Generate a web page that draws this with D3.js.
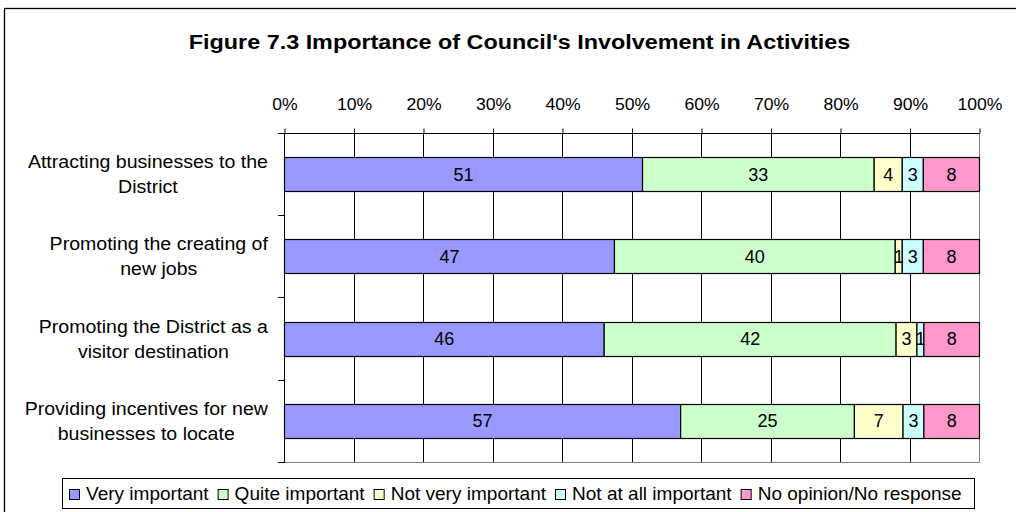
<!DOCTYPE html>
<html>
<head>
<meta charset="utf-8">
<script src="https://cdn.jsdelivr.net/npm/d3@7"></script>
<style>
  html, body { margin: 0; padding: 0; background: #fff; }
  svg { display: block; font-family: "Liberation Sans", Arial, sans-serif; }
</style>
</head>
<body>
<svg id="chart" width="1016" height="512"></svg>
<script>
// Survey responses (counts shown on the bars; widths are shares of each row's total)
const categories = [
  ["Attracting businesses to the", "District"],
  ["Promoting the creating of", "new jobs"],
  ["Promoting the District as a", "visitor destination"],
  ["Providing incentives for new", "businesses to locate"]
];
const seriesNames = ["Very important", "Quite important", "Not very important", "Not at all important", "No opinion/No response"];
const veryImportant     = [51, 47, 46, 57];
const quiteImportant    = [33, 40, 42, 25];
const notVeryImportant  = [4, 1, 3, 7];
const notAtAllImportant = [3, 3, 1, 3];
const noOpinion         = [8, 8, 8, 8];
const tickValues = [0, 10, 20, 30, 40, 50, 60, 70, 80, 90, 100];
const titleText = "Figure 7.3 Importance of Council's Involvement in Activities";

const colors = ["#9999FF", "#CCFFCC", "#FFFFCC", "#CCFFFF", "#FF99CC"];
const series = [veryImportant, quiteImportant, notVeryImportant, notAtAllImportant, noOpinion];

const svg = d3.select("#chart");

// places a text element at (x,y) with a horizontal stretch
function placeText(sel, x, y, sx) {
  return sel.attr("x", 0).attr("y", 0)
    .attr("transform", `translate(${x},${y}) scale(${sx},1)`);
}

// outer chart frame
svg.append("rect")
  .attr("x", 4.5).attr("y", 8.5).attr("width", 1040).attr("height", 520)
  .attr("fill", "#fff").attr("stroke", "#000").attr("stroke-width", 1.3);

// title
placeText(svg.append("text"), 519.5, 49, 1.14)
  .attr("text-anchor", "middle")
  .attr("font-size", 20.5).attr("font-weight", "bold")
  .text(titleText);

// scales
const plot = { left: 284, right: 979, top: 133, bottom: 462 };
const x = d3.scaleLinear().domain([0, 100]).range([plot.left, plot.right]);
const catIndex = categories.map((d, i) => i);
const y = d3.scaleBand().domain(catIndex)
  .range([plot.top, plot.bottom])
  .paddingInner(0.587).paddingOuter(0.587 / 2);

// plot area border
svg.append("rect")
  .attr("x", plot.left + 0.5).attr("y", plot.top + 0.5)
  .attr("width", plot.right - plot.left).attr("height", plot.bottom - plot.top)
  .attr("fill", "#fff").attr("stroke", "#808080");

// vertical gridlines
svg.append("g").selectAll("line")
  .data(tickValues.filter(t => t > 0 && t < 100))
  .join("line")
  .attr("x1", d => Math.round(x(d)) + 0.5).attr("x2", d => Math.round(x(d)) + 0.5)
  .attr("y1", plot.top).attr("y2", plot.bottom)
  .attr("stroke", "#000");

// top value axis
const xAxis = d3.axisTop(x).tickValues(tickValues)
  .tickFormat(d => d + "%").tickSize(5).tickPadding(19);
const gx = svg.append("g")
  .attr("transform", `translate(0.5,${plot.top + 0.5})`)
  .call(xAxis);
gx.select(".domain").attr("stroke", "#000").attr("d", `M${plot.left - 0.5},0H${plot.right}`);
gx.selectAll(".tick line").attr("stroke", "#000");
gx.selectAll(".tick text")
  .attr("font-size", 16).attr("fill", "#000")
  .attr("font-family", "Liberation Sans, Arial, sans-serif")
  .each(function () {
    const t = d3.select(this);
    const ty = +t.attr("y");
    t.attr("transform", `translate(0,${ty}) scale(1.1,1)`).attr("y", 0).attr("dy", 0);
  });

// left category axis: line plus ticks on band boundaries
svg.append("line")
  .attr("x1", plot.left + 0.5).attr("x2", plot.left + 0.5)
  .attr("y1", plot.top).attr("y2", plot.bottom + 1)
  .attr("stroke", "#000");
const boundaries = catIndex.map(i => y(i) - y.step() * y.paddingInner() / 2).concat([plot.bottom]);
svg.append("g").selectAll("line")
  .data(boundaries)
  .join("line")
  .attr("x1", plot.left - 6).attr("x2", plot.left)
  .attr("y1", d => Math.round(d) + 0.5).attr("y2", d => Math.round(d) + 0.5)
  .attr("stroke", "#000");

// stacked segments
const rows = catIndex.map(i => {
  const vals = series.map(s => s[i]);
  const total = d3.sum(vals);
  let acc = 0;
  return vals.map((v, k) => {
    const x0 = acc / total * 100;
    acc += v;
    return { row: i, k, v, x0, x1: acc / total * 100 };
  });
});
const segs = rows.flat();

svg.append("g").selectAll("rect")
  .data(segs)
  .join("rect")
  .attr("x", d => x(d.x0) + 0.5)
  .attr("y", d => Math.round(y(d.row)) + 0.5)
  .attr("width", d => x(d.x1) - x(d.x0))
  .attr("height", Math.round(y.bandwidth()))
  .attr("fill", d => colors[d.k])
  .attr("stroke", "#000").attr("stroke-width", 1.2);

// value labels
svg.append("g").selectAll("text")
  .data(segs)
  .join("text")
  .attr("x", d => (x(d.x0) + x(d.x1)) / 2 + 0.5)
  .attr("y", d => y(d.row) + y.bandwidth() / 2 + 6.5)
  .attr("text-anchor", "middle")
  .attr("font-size", 18)
  .text(d => d.v);

// category labels: block right-aligned, lines centred within the block
const labelRight = 268;
catIndex.forEach(i => {
  const cy = y(i) + y.bandwidth() / 2;
  const sx = 1.057;
  const g = svg.append("g");
  const texts = categories[i].map(line =>
    g.append("text").attr("font-size", 18.5).attr("text-anchor", "middle").text(line));
  const maxW = d3.max(texts, t => t.node().getComputedTextLength()) * sx;
  const cx = labelRight - maxW / 2;
  texts.forEach((t, j) => placeText(t, cx, cy - 6 + j * 25, sx));
});

// legend
const legend = svg.append("g");
legend.append("rect")
  .attr("x", 62.5).attr("y", 478.5).attr("width", 912).attr("height", 30)
  .attr("fill", "#fff").attr("stroke", "#000");
let lx = 69;
const legendSx = 1.088;
seriesNames.forEach((name, k) => {
  legend.append("rect")
    .attr("x", lx + 0.5).attr("y", 489.5).attr("width", 10).attr("height", 10)
    .attr("fill", colors[k]).attr("stroke", "#000");
  const t = legend.append("text").attr("font-size", 17.5).text(name);
  placeText(t, lx + 17, 500, legendSx);
  lx += 17 + t.node().getComputedTextLength() * legendSx + 9;
});
</script>
</body>
</html>
